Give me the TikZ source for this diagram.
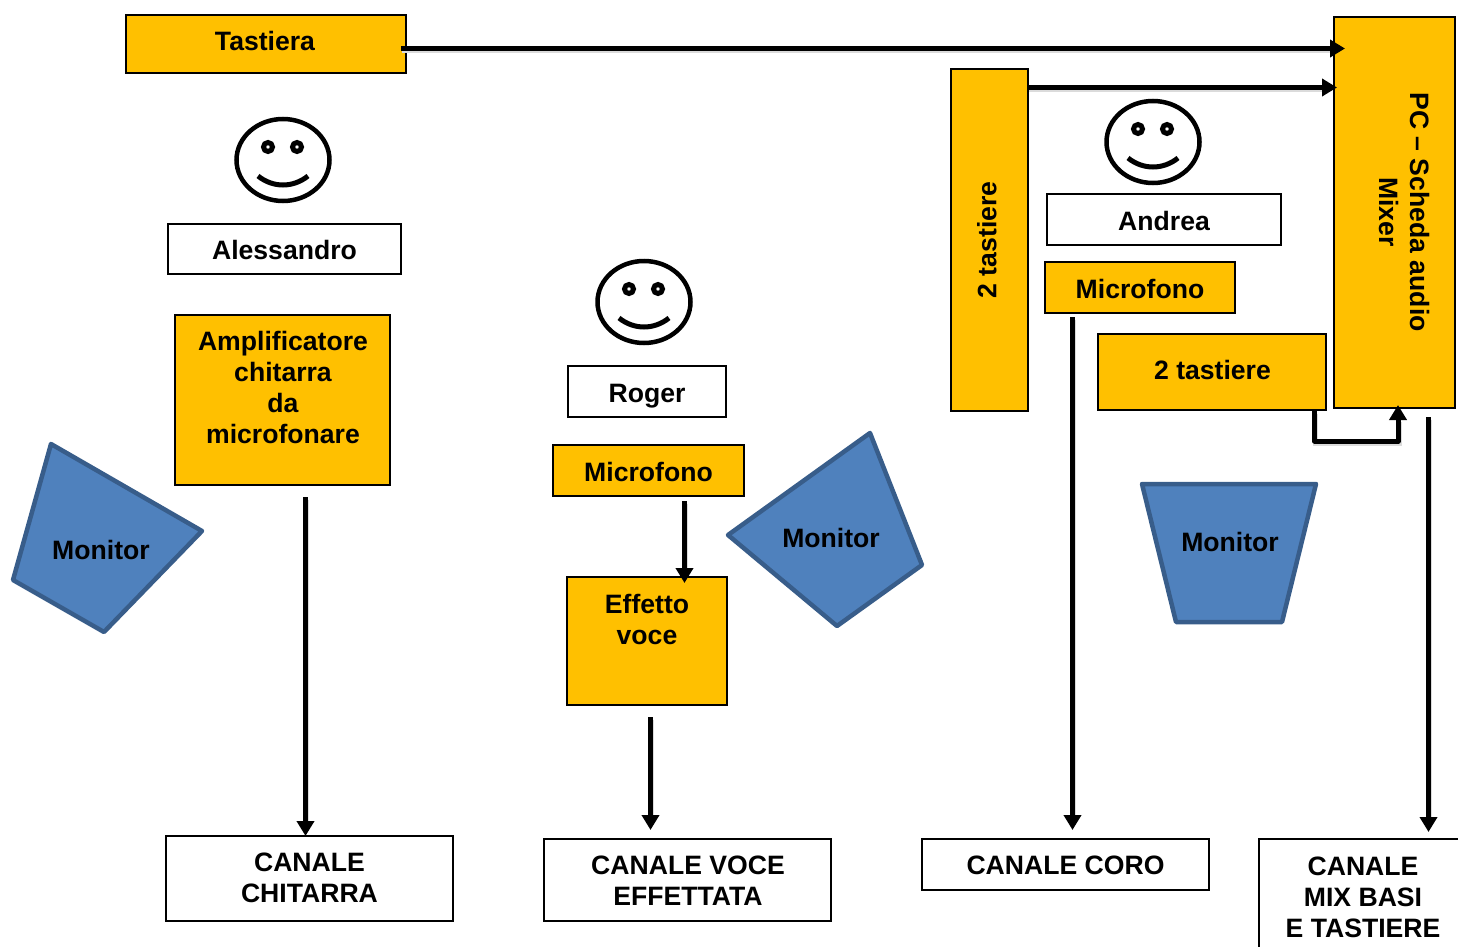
\documentclass[tikz,border=0pt]{standalone}
\usepackage{fontspec}
\setmainfont{Liberation Sans}
\usetikzlibrary{arrows.meta,positioning}
\definecolor{boxorange}{HTML}{FFC000}
\definecolor{monfill}{HTML}{4F81BD}
\definecolor{monline}{HTML}{385D8A}
\tikzset{
tag/.style={font=\fontsize{26.6}{31}\selectfont\bfseries,align=center,inner sep=0pt,outer sep=0pt},
onetag/.style={tag,text height=20.5pt,text depth=0pt},
orangebox/.style={draw=black,line width=2pt,fill=boxorange,outer sep=0pt,inner sep=0pt},
whitebox/.style={draw=black,line width=2pt,fill=white,outer sep=0pt,inner sep=0pt},
monitor/.style={draw=monline,line width=4.5pt,fill=monfill,line join=round},
wire/.style={draw=black,line width=5pt,-{Triangle[length=15pt,width=17pt]},
preaction={draw=black!14,line width=5pt,-,shorten >=14pt,transform canvas={shift={(1pt,-2.5pt)}}}},
smiley/.pic={
\draw [line width=4.5pt] (0,0) ellipse [x radius=46.5,y radius=41];
\draw [line width=5pt,fill=white] (-15,-13) circle [radius=4.5];
\draw [line width=5pt,fill=white] (14,-13) circle [radius=4.5];
\draw [line width=5pt] (-25,16) .. controls (-10,28) and (10,28) .. (25,16);
}
}
\begin{document}
\begin{tikzpicture}[x=1pt,y=-1pt]
\useasboundingbox (0,0) rectangle (1458,947);
\clip (0,0) rectangle (1458,947);
% people
\pic at (283,160) {smiley};
\pic at (644,302) {smiley};
\pic at (1153,142) {smiley};
\node [whitebox,onetag,minimum width=233pt,minimum height=50pt] (alessandro) at (284.5,249) {Alessandro};
\node [whitebox,onetag,minimum width=158pt,minimum height=51pt] (roger) at (647,391.5) {\raisebox{-1pt}{Roger}};
\node [whitebox,onetag,minimum width=234pt,minimum height=51pt] (andrea) at (1164,219.5) {\raisebox{-1pt}{Andrea}};
% orange boxes
\node [orangebox,minimum width=280pt,minimum height=58pt] (tastiera) at (266,44) {};
\node [onetag] (tastieralabel) at (265,40) {Tastiera};
\node [orangebox,minimum width=215pt,minimum height=170pt] (ampli) at (282.5,400) {};
\node [tag] (amplilabel) at (283,387.5) {Amplificatore\\chitarra\\da\\microfonare};
\node [orangebox,minimum width=191pt,minimum height=51pt] (micro) at (648.5,470.5) {};
\node [onetag] (microlabel) at (648.5,471.5) {Microfono};
\node [orangebox,minimum width=160pt,minimum height=128pt] (effetto) at (647,641) {};
\node [tag] (effettolabel) at (647,619.5) {Effetto\\voce};
\node [orangebox,minimum width=77pt,minimum height=342pt] (tastv) at (989.5,240) {};
\node [onetag,rotate=90] (tastvlabel) at (986,240) {2 tastiere};
\node [orangebox,minimum width=190pt,minimum height=51pt] (microb) at (1140,287.5) {};
\node [onetag] (microblabel) at (1140,288.5) {Microfono};
\node [orangebox,minimum width=228pt,minimum height=76pt] (tasth) at (1212,372) {};
\node [onetag] (tasthlabel) at (1212.5,369) {2 tastiere};
\node [orangebox,minimum width=121pt,minimum height=391pt] (pc) at (1394.5,212.5) {};
\node [tag,rotate=-90] (pclabel) at (1404,212) {PC -- Scheda audio\\Mixer};
% channels
\node [whitebox,minimum width=287pt,minimum height=85pt] (chitarra) at (309.5,878.5) {};
\node [tag] (chitarralabel) at (309.5,877.5) {CANALE\\CHITARRA};
\node [whitebox,minimum width=287pt,minimum height=82pt] (voce) at (687.5,880) {};
\node [tag] (vocelabel) at (688,880.5) {CANALE VOCE\\EFFETTATA};
\node [whitebox,onetag,minimum width=287pt,minimum height=51pt] (coro) at (1065.5,864.5) {CANALE CORO};
\node [whitebox,minimum width=208pt,minimum height=130pt] (mix) at (1363,904) {};
\node [tag] (mixlabel) at (1363,897) {CANALE\\MIX BASI\\E TASTIERE};
% monitors
\draw [monitor] (51,444) -- (202,531) -- (104,632) -- (13,580) -- cycle;
\draw [monitor] (870,433) -- (922,565) -- (837,626) -- (728,535) -- cycle;
\draw [monitor] (1142,484) -- (1316,484) -- (1282,622) -- (1176,622) -- cycle;
\node [onetag] (monitora) at (101,549) {Monitor};
\node [onetag] (monitorb) at (831,537) {Monitor};
\node [onetag] (monitorc) at (1230,541) {Monitor};
% free ends of the wires
\coordinate (tastout) at (401,48.5);
\coordinate (pcin) at (1345,48.5);
\coordinate (tastvout) at (1028,87.5);
\coordinate (pcinb) at (1337,87.5);
\coordinate (tasthout) at (1314.5,411);
\coordinate (pcinc) at (1398,405);
\coordinate (ampliout) at (305.5,497);
\coordinate (microout) at (684.5,501);
\coordinate (effettoout) at (650.5,717);
\coordinate (microbout) at (1072.5,317);
\coordinate (pcout) at (1428.5,417);
% wires
\draw [wire] (tastout) -- (pcin);
\draw [wire] (tastvout) -- (pcinb);
\draw [wire,line join=round] (tasthout) -- (1314.5,441) -- (1398,441) -- (pcinc);
\draw [wire] (ampliout) -- (ampliout |- chitarra.north);
\draw [wire] (microout) -- (684.5,583);
\draw [wire] (effettoout) -- (650.5,830);
\draw [wire] (microbout) -- (1072.5,830);
\draw [wire] (pcout) -- (1428.5,832);
\end{tikzpicture}
\end{document}
